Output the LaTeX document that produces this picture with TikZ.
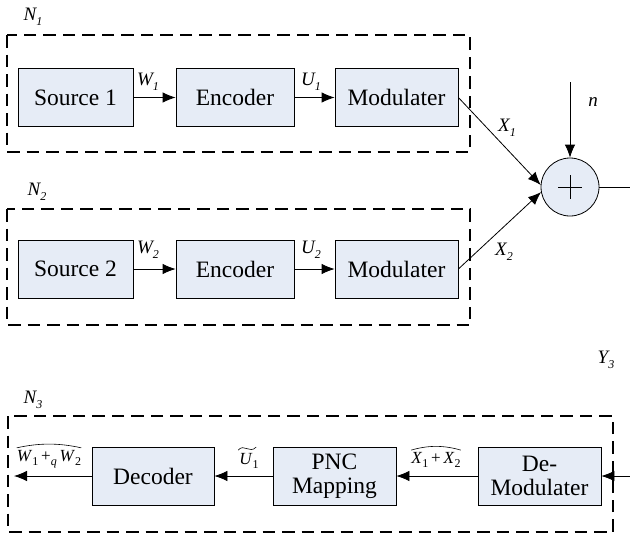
\documentclass[tikz,border=0pt]{standalone}
\usepackage{amsmath}
\usepackage{fontspec}
\setmainfont{Liberation Serif}
\newfontfamily\tnr{Liberation Serif}
\usetikzlibrary{arrows.meta,calc}
\definecolor{boxfill}{RGB}{230,236,246}
\tikzset{
  blk/.style={draw=black, line width=0.8pt, fill=boxfill, font=\tnr\fontsize{23.5}{25}\selectfont, align=center, inner sep=0pt, minimum height=58pt},
  grp/.style={draw=black, line width=1.8pt, dash pattern=on 12.5pt off 7pt},
  conn/.style={line width=0.8pt, -{Latex[length=13pt,width=10.5pt]}},
  plain/.style={line width=0.8pt},
  tild/.style={line width=0.6pt},
  lbl/.style={font=\tnr\fontsize{19}{22}\selectfont\itshape, inner sep=0pt},
  tlbl/.style={font=\tnr\fontsize{17}{20}\selectfont, inner sep=0pt},
}
\newcommand{\sbx}[1]{\raisebox{-0.25em}{\fontsize{12}{12}\selectfont #1}}
\begin{document}
\begin{tikzpicture}[x=1pt,y=-1pt]
\useasboundingbox (0,0) rectangle (630,533);
% groups
\draw[grp] (7,35) rectangle (470,152);
\draw[grp] (7,209) rectangle (470,325);
\draw[grp] (8,416) rectangle (613,532);
\node[lbl] (n1) at (33,17) {N\sbx{1}};
\node[lbl] (n2) at (37,192) {N\sbx{2}};
\node[lbl] (n3) at (33,400) {N\sbx{3}};
% row 1
\node[blk, minimum width=115pt] (src1) at (75.5,97.5) {Source 1};
\node[blk, minimum width=118pt] (enc1) at (235,97.5) {Encoder};
\node[blk, minimum width=123pt] (mod1) at (396.5,97.5) {Modulater};
% row 2
\node[blk, minimum width=115pt] (src2) at (75.5,269) {Source 2};
\node[blk, minimum width=118pt] (enc2) at (235,269) {Encoder};
\node[blk, minimum width=123pt] (mod2) at (396.5,269) {Modulater};
% adder
\node[draw=black, line width=0.8pt, fill=boxfill, circle, minimum size=58pt, inner sep=0pt] (add) at (570,187) {};
\draw[line width=1pt] ($(add.center)+(-12,0)$) -- ($(add.center)+(12,0)$);
\draw[line width=1pt] ($(add.center)+(0,-12)$) -- ($(add.center)+(0,12)$);
\coordinate (nin) at (570,82);
\coordinate (yout) at (630,187);
\coordinate (yin) at (630,476);
\coordinate (wout) at (14,476);
% bottom row
\node[blk, minimum width=122pt] (dec) at (153,476) {Decoder};
\node[blk, minimum width=123pt] (pnc) at (334.5,476) {PNC\\[-1pt]Mapping};
\node[blk, minimum width=123pt] (dem) at (539.5,476) {De-\\[-1pt]Modulater};
% connectors
\draw[conn] (src1) -- (enc1);
\draw[conn] (enc1) -- (mod1);
\draw[conn] (src2) -- (enc2);
\draw[conn] (enc2) -- (mod2);
\draw[conn] (mod1.east) -- (add.176);
\draw[conn] (mod2.east) -- (add.190);
\draw[conn] (nin) -- (add.north);
\draw[plain] (add.east) -- (yout);
\draw[conn] (yin) -- (dem.east);
\draw[conn] (dem) -- (pnc);
\draw[conn] (pnc) -- (dec);
\draw[conn] (dec.west) -- (wout);
% labels
\node[lbl] (lw1) at (148,82) {W\sbx{1}};
\node[lbl] (lu1) at (311,82) {U\sbx{1}};
\node[lbl] (lw2) at (148,250) {W\sbx{2}};
\node[lbl] (lu2) at (311,250) {U\sbx{2}};
\node[lbl] (lx1) at (507,128) {X\sbx{1}};
\node[lbl] (lx2) at (504,252) {X\sbx{2}};
\node[lbl] (ln) at (593,102) {n};
\node[lbl] (ly3) at (606,360) {Y\sbx{3}};
\node[tlbl] (lwq) at (49,459) {\textit{W}\sbx{1}\,+\sbx{\textit{q}}\,\textit{W}\sbx{2}};
\node[tlbl] (lut) at (249,461) {\textit{U}\sbx{1}};
\node[tlbl] (lxx) at (436,460) {\textit{X}\sbx{1}\,+\,\textit{X}\sbx{2}};
% tildes
\draw[tild] ($(lwq.north west)+(0,-2)$) .. controls ($(lwq.north west)!0.35!(lwq.north east)+(0,-7)$) and ($(lwq.north west)!0.65!(lwq.north east)+(0,-7)$) .. ($(lwq.north east)+(0,-2)$);
\draw[tild] ($(lxx.north west)+(0,-2)$) .. controls ($(lxx.north west)!0.35!(lxx.north east)+(0,-7)$) and ($(lxx.north west)!0.65!(lxx.north east)+(0,-7)$) .. ($(lxx.north east)+(0,-2)$);
\draw[tild] ($(lut.north west)+(-1,-3)$) .. controls ($(lut.north west)+(5,-10)$) and ($(lut.north west)+(10,1)$) .. ($(lut.north west)+(17,-6)$);
\end{tikzpicture}
\end{document}
